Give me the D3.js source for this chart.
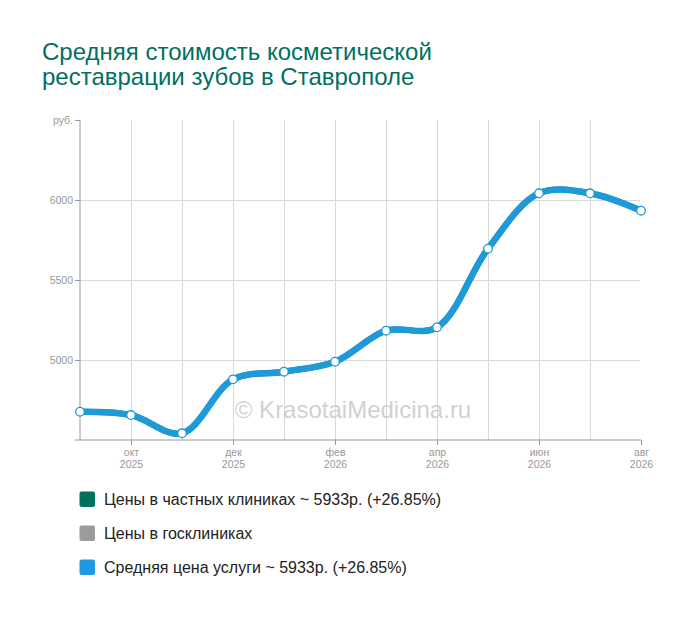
<!DOCTYPE html>
<html><head><meta charset="utf-8">
<script src="https://cdn.jsdelivr.net/npm/d3@7"></script>
<style>body{margin:0;background:#fff;} svg{display:block;font-family:"Liberation Sans",Arial,sans-serif;}</style>
</head><body>
<svg id="c" width="700" height="617"></svg>
<script>
const months = ["сен 2025","окт 2025","ноя 2025","дек 2025","янв 2026","фев 2026","мар 2026","апр 2026","май 2026","июн 2026","июл 2026","авг 2026"];
const privateValues = [4677,4656,4542,4879,4927,4989,5183,5204,5696,6042,6042,5933];
const averageValues = [4677,4656,4542,4879,4927,4989,5183,5204,5696,6042,6042,5933];
const yTicks = [5000,5500,6000];
const xTickLabels = [["окт","2025"],["дек","2025"],["фев","2026"],["апр","2026"],["июн","2026"],["авг","2026"]];
const xTickIndex = [1,3,5,7,9,11];
const legendItems = ["Цены в частных клиниках ~ 5933р. (+26.85%)","Цены в госклиниках","Средняя цена услуги ~ 5933р. (+26.85%)"];
const legendColors = ["#00705f","#9b9b9b","#1e9be0"];

const svg = d3.select("#c");
const x = d3.scaleLinear().domain([0, months.length-1]).range([80, 641]);
const y = d3.scaleLinear().domain([4500, 6500]).range([440, 120]);

// title
const title = svg.append("text").attr("x",42).attr("fill","#00705f").attr("font-size",24);
title.append("tspan").attr("x",42).attr("y",60).text("Средняя стоимость косметической");
title.append("tspan").attr("x",42).attr("y",85).text("реставрации зубов в Ставрополе");

// grid
const g = svg.append("g");
g.selectAll(".hg").data(yTicks).join("line")
  .attr("x1",80).attr("x2",640).attr("y1",d=>y(d)).attr("y2",d=>y(d))
  .attr("stroke","#d9d9d9").attr("stroke-width",1).attr("shape-rendering","crispEdges");
g.selectAll(".vg").data(d3.range(1, months.length-1)).join("line")
  .attr("x1",d=>x(d)).attr("x2",d=>x(d)).attr("y1",120).attr("y2",440)
  .attr("stroke","#d9d9d9").attr("stroke-width",1).attr("shape-rendering","crispEdges");

// y axis
const yAxis = d3.axisLeft(y).tickValues(yTicks.concat([6500])).tickSize(5).tickFormat(d=> d===6500 ? "руб." : d);
const ya = svg.append("g").attr("transform","translate(80,0)").call(yAxis);
ya.select(".domain").attr("stroke","#999").attr("d","M0,120V440");
ya.selectAll(".tick line").attr("stroke","#999");
ya.selectAll(".tick text").attr("fill","#999").attr("font-size",10.5).attr("font-family","Liberation Sans, Arial, sans-serif").attr("x",-7);

// x axis
const xAxis = d3.axisBottom(x).tickValues(xTickIndex).tickSize(5).tickFormat("");
const xa = svg.append("g").attr("transform","translate(0,440)").call(xAxis);
xa.select(".domain").attr("stroke","#999").attr("d","M75,0H641");
xa.selectAll(".tick line").attr("stroke","#999");
xa.selectAll(".tick").each(function(d,i){
  const t = d3.select(this).append("text").attr("fill","#999").attr("font-size",10.5)
    .attr("text-anchor","middle").attr("font-family","Liberation Sans, Arial, sans-serif");
  t.append("tspan").attr("x",0).attr("y",16).text(xTickLabels[i][0]);
  t.append("tspan").attr("x",0).attr("y",28).text(xTickLabels[i][1]);
});

// watermark
svg.append("text").attr("x",353).attr("y",418).attr("text-anchor","middle")
  .attr("font-size",24).attr("fill","#c8c8c8").attr("fill-opacity",0.85).text("© KrasotaiMedicina.ru");

// lines
const line = d3.line().x((d,i)=>x(i)).y(d=>y(d)).curve(d3.curveCatmullRom.alpha(0.5));
svg.append("path").datum(privateValues).attr("d",line).attr("fill","none")
  .attr("stroke","#00705f").attr("stroke-width",6);
svg.append("path").datum(averageValues).attr("d",line).attr("fill","none")
  .attr("stroke","#1e9ad8").attr("stroke-width",6.5).attr("stroke-linecap","round");

svg.selectAll(".pt").data(averageValues).join("circle")
  .attr("cx",(d,i)=>x(i)).attr("cy",d=>y(d)).attr("r",4.3)
  .attr("fill","#fff").attr("stroke","#1e9ad8").attr("stroke-width",1.3);

// legend
const lg = svg.append("g");
legendItems.forEach((t,i)=>{
  const yy = 491.5 + i*34;
  lg.append("rect").attr("x",79.5).attr("y",yy).attr("width",15.5).attr("height",15.5)
    .attr("rx",2).attr("fill",legendColors[i]);
  lg.append("text").attr("x",104).attr("y",yy+13.5).attr("font-size",16).attr("fill","#222").text(t);
});
</script>
</body></html>
